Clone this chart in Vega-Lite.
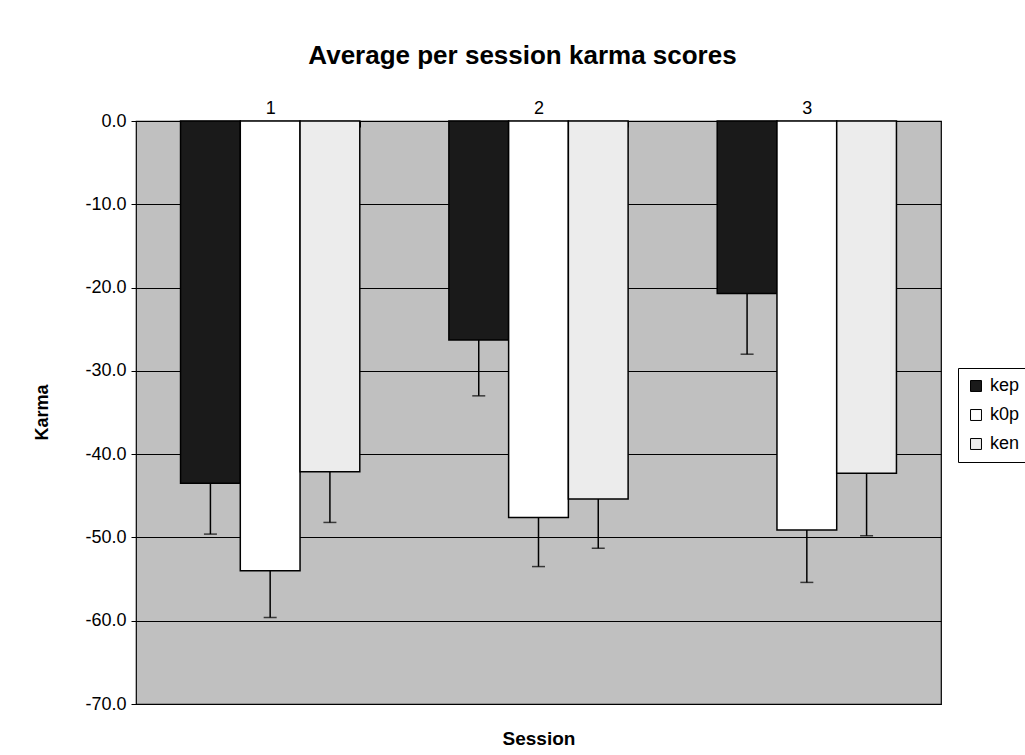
{
  "$schema": "https://vega.github.io/schema/vega-lite/v6.json",
  "autosize": "none",
  "width": 805,
  "height": 583,
  "padding": {"left": 136, "top": 121, "right": 84, "bottom": 51},
  "background": "white",
  "title": {
    "text": "Average per session karma scores",
    "font": "Liberation Sans",
    "fontSize": 26,
    "fontWeight": "bold",
    "color": "black",
    "anchor": "middle",
    "dx": -16,
    "offset": 30
  },
  "config": {
    "font": "Liberation Sans",
    "locale": {"number": {"decimal": ".", "thousands": ",", "grouping": [3], "currency": ["$", ""], "minus": "-"}},
    "view": {"fill": "#c0c0c0", "stroke": "black", "strokeWidth": 1.2},
    "axis": {"labelFont": "Liberation Sans", "titleFont": "Liberation Sans", "labelColor": "black", "titleColor": "black"}
  },
  "data": {
    "values": [
      {"Session": "1", "series": "kep", "Karma": -43.5, "low": -49.6},
      {"Session": "1", "series": "k0p", "Karma": -54.0, "low": -59.6},
      {"Session": "1", "series": "ken", "Karma": -42.1, "low": -48.2},
      {"Session": "2", "series": "kep", "Karma": -26.3, "low": -33.0},
      {"Session": "2", "series": "k0p", "Karma": -47.6, "low": -53.5},
      {"Session": "2", "series": "ken", "Karma": -45.4, "low": -51.3},
      {"Session": "3", "series": "kep", "Karma": -20.7, "low": -28.0},
      {"Session": "3", "series": "k0p", "Karma": -49.1, "low": -55.4},
      {"Session": "3", "series": "ken", "Karma": -42.3, "low": -49.8}
    ]
  },
  "encoding": {
    "x": {
      "field": "Session",
      "type": "nominal",
      "scale": {"paddingInner": 0.332, "paddingOuter": 0.166},
      "axis": {
        "orient": "top",
        "title": "Session",
        "titleFontSize": 19,
        "titleFontWeight": "bold",
        "titleY": 617,
        "titleBaseline": "middle",
        "labelFontSize": 18,
        "labelAngle": 0,
        "labelPadding": 10,
        "tickBand": "extent",
        "tickSize": -6,
        "tickColor": "black",
        "domain": false
      }
    },
    "xOffset": {"field": "series", "type": "nominal", "sort": ["kep", "k0p", "ken"], "scale": {"paddingInner": 0, "paddingOuter": 0}}
  },
  "layer": [
    {
      "mark": {"type": "bar", "stroke": "black", "strokeWidth": 1.5},
      "encoding": {
        "y": {
          "field": "Karma",
          "type": "quantitative",
          "scale": {"domain": [-70, 0], "nice": false},
          "axis": {
            "title": "Karma",
            "titleFontSize": 18,
            "titleFontWeight": "bold",
            "titleAngle": 270,
            "titleX": -94,
            "titleY": 291,
            "titleAlign": "center",
            "titleBaseline": "middle",
            "values": [0, -10, -20, -30, -40, -50, -60, -70],
            "format": ".1f",
            "labelFontSize": 18,
            "labelPadding": 5,
            "tickSize": 5,
            "tickColor": "black",
            "domain": false,
            "grid": true,
            "gridColor": "black",
            "gridWidth": 1
          }
        },
        "y2": {"datum": 0},
        "fill": {
          "field": "series",
          "type": "nominal",
          "sort": ["kep", "k0p", "ken"],
          "scale": {"domain": ["kep", "k0p", "ken"], "range": ["#1a1a1a", "#ffffff", "#ececec"]},
          "legend": {
            "title": null,
            "orient": "none",
            "legendX": 822,
            "legendY": 247,
            "padding": 9,
            "strokeColor": "black",
            "fillColor": "white",
            "symbolType": "square",
            "symbolSize": 120,
            "symbolStrokeColor": "black",
            "symbolStrokeWidth": 1,
            "labelFontSize": 18,
            "labelColor": "black",
            "labelFont": "Liberation Sans",
            "rowPadding": 11,
            "labelOffset": 5
          }
        }
      }
    },
    {
      "mark": {"type": "rule", "color": "black", "strokeWidth": 1.5},
      "encoding": {
        "y": {"field": "Karma", "type": "quantitative"},
        "y2": {"field": "low"}
      }
    },
    {
      "mark": {"type": "tick", "color": "black", "thickness": 1.5, "size": 13, "orient": "horizontal"},
      "encoding": {
        "y": {"field": "low", "type": "quantitative"}
      }
    }
  ]
}
